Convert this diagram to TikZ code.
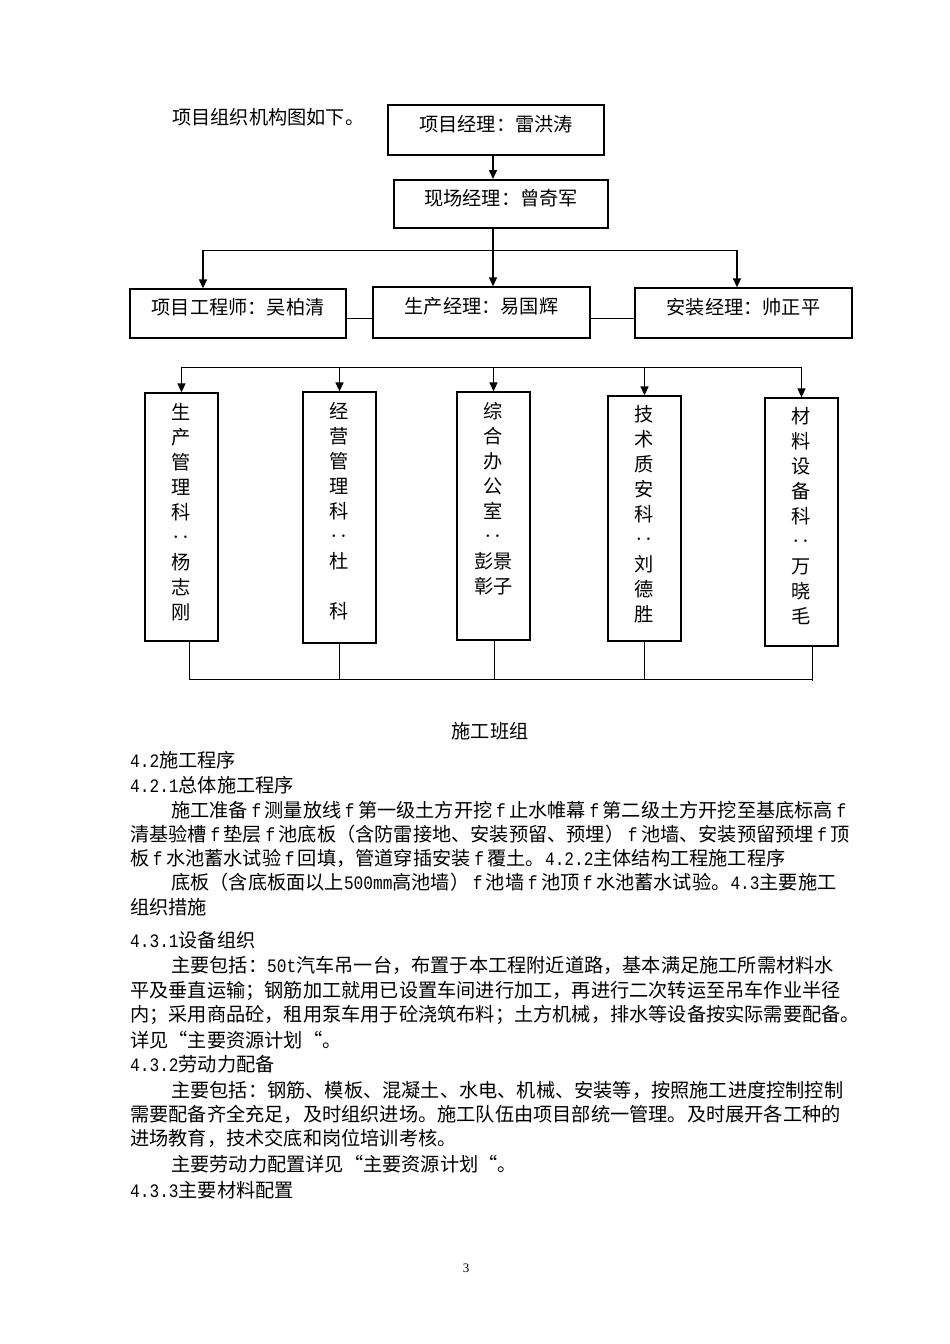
\documentclass[tikz,border=0pt]{standalone}
\usepackage{fontspec}
\setmainfont{Noto Sans CJK SC}
\newfontfamily\hwfont{Liberation Mono}[FakeStretch=0.85]
\newfontfamily\pgfont{Liberation Serif}
\usetikzlibrary{arrows.meta,positioning}
\newcommand\bodyfont{\fontsize{19.2pt}{25pt}\selectfont}
\newcommand\hw[1]{{\fontsize{19pt}{25pt}\hwfont #1}}
\newcommand\fto{\kern3.5pt\hw{f}\kern3.5pt}
\tikzset{
  textline/.style={anchor=base west, inner sep=0pt, font=\bodyfont},
  mgrbox/.style={draw, line width=1.3pt, inner sep=0pt, text depth=14pt, font=\bodyfont},
  topbox/.style={mgrbox, line width=2pt},
  deptbox/.style={draw, line width=1.3pt, inner sep=0pt, minimum width=73},
  depttext/.style={align=center, inner sep=0pt, font=\bodyfont},
  link/.style={line width=1pt},
  feed/.style={line width=1.5pt, -{Triangle[length=9pt,width=8pt]}}
}
\begin{document}
\begin{tikzpicture}[x=1pt, y=-1pt]
  \path[use as bounding box] (0,0) rectangle (950,1344); % page
  % org chart
  \node[textline] (intro) at (172,124) {项目组织机构图如下。};
  \node[topbox, minimum width=216, minimum height=50] (pm) at (496,130) {项目经理：雷洪涛};
  \node[topbox, minimum width=214, minimum height=48] (sm) at (501,204) {现场经理：曾奇军};
  \node[mgrbox, minimum width=216, minimum height=49] (eng) at (238,313.5) {项目工程师：吴柏清};
  \node[mgrbox, minimum width=217, minimum height=51] (prod) at (481.5,312.5) {生产经理：易国辉};
  \node[mgrbox, minimum width=217, minimum height=50] (inst) at (743.5,313) {安装经理：帅正平};

  \coordinate (spine) at (493,250);
  \coordinate (busL) at (203,250);
  \coordinate (busR) at (737,250);
  \coordinate (tie) at (0,318);
  \draw[feed] (pm.south -| spine) -- (sm.north -| spine);
  \draw[feed] (sm.south -| spine) -- (prod.north -| spine);
  \draw[link] (busL) -- (busR);
  \draw[feed] (busL) -- (eng.north -| busL);
  \draw[feed] (busR) -- (inst.north -| busR);
  \draw[link] (eng.east |- tie) -- (prod.west |- tie);
  \draw[link] (prod.east |- tie) -- (inst.west |- tie);

  % departments
  \node[deptbox, minimum height=248] (b1) at (181.5,517) {};
  \node[deptbox, minimum height=251] (b2) at (339.5,517.5) {};
  \node[deptbox, minimum height=248] (b3) at (493.5,516) {};
  \node[deptbox, minimum height=245] (b4) at (644.5,518.5) {};
  \node[deptbox, minimum height=248] (b5) at (801.5,522) {};
  \node[depttext, below=11pt of b1.north] (t1) {生\\产\\管\\理\\科\\‥\\杨\\志\\刚};
  \node[depttext, below=11pt of b2.north] (t2) {经\\营\\管\\理\\科\\‥\\杜\\\mbox{}\\科};
  \node[depttext, below=11pt of b3.north] (t3) {综\\合\\办\\公\\室\\‥\\彭景\\彰子};
  \node[depttext, below=10pt of b4.north] (t4) {技\\术\\质\\安\\科\\‥\\刘\\德\\胜};
  \node[depttext, below=10pt of b5.north] (t5) {材\\料\\设\\备\\科\\‥\\万\\晓\\毛};

  \coordinate (rowbus) at (0,367);
  \draw[link] (b1.north |- rowbus) -- (b5.north |- rowbus);
  \draw[feed] (b1.north |- rowbus) -- (b1.north);
  \draw[feed] (b2.north |- rowbus) -- (b2.north);
  \draw[feed] (b3.north |- rowbus) -- (b3.north);
  \draw[feed] (b4.north |- rowbus) -- (b4.north);
  \draw[feed] (b5.north |- rowbus) -- (b5.north);

  \coordinate (foot1) at (189,679);
  \coordinate (foot2) at (339,679);
  \coordinate (foot3) at (494,679);
  \coordinate (foot4) at (644,679);
  \coordinate (foot5) at (812,681);
  \draw[link] (b1.south -| foot1) -- (foot1);
  \draw[link] (b2.south -| foot2) -- (foot2);
  \draw[link] (b3.south -| foot3) -- (foot3);
  \draw[link] (b4.south -| foot4) -- (foot4);
  \draw[link] (b5.south -| foot5) -- (foot5);
  \draw[link] (foot1) -- (foot4 -| foot5);

  \node[font=\bodyfont, anchor=base, inner sep=0pt] (crew) at (490,738) {施工班组};

  % body text
  \node[textline] (l01) at (130,767) {\hw{4.2}施工程序};
  \node[textline] (l02) at (130,792) {\hw{4.2.1}总体施工程序};
  \node[textline] (l03) at (171,817) {施工准备\fto{}测量放线\fto{}第一级土方开挖\fto{}止水帷幕\fto{}第二级土方开挖至基底标高\fto{}};
  \node[textline] (l04) at (130,841) {清基验槽\fto{}垫层\fto{}池底板（含防雷接地、安装预留、预埋）\fto{}池墙、安装预留预埋\fto{}顶};
  \node[textline] (l05) at (130,865) {板\fto{}水池蓄水试验\fto{}回填，管道穿插安装\fto{}覆土。\hw{4.2.2}主体结构工程施工程序};
  \node[textline] (l06) at (171,889) {底板（含底板面以上\hw{500mm}高池墙）\fto{}池墙\fto{}池顶\fto{}水池蓄水试验。\hw{4.3}主要施工};
  \node[textline] (l07) at (130,914) {组织措施};
  \node[textline] (l08) at (130,947) {\hw{4.3.1}设备组织};
  \node[textline] (l09) at (171,972) {主要包括：\hw{50t}汽车吊一台，布置于本工程附近道路，基本满足施工所需材料水};
  \node[textline] (l10) at (130,997) {平及垂直运输；钢筋加工就用已设置车间进行加工，再进行二次转运至吊车作业半径};
  \node[textline] (l11) at (130,1021) {内；采用商品砼，租用泵车用于砼浇筑布料；土方机械，排水等设备按实际需要配备。};
  \node[textline] (l12) at (130,1047) {详见“主要资源计划“。};
  \node[textline] (l13) at (130,1071) {\hw{4.3.2}劳动力配备};
  \node[textline] (l14) at (171,1097) {主要包括：钢筋、模板、混凝土、水电、机械、安装等，按照施工进度控制控制};
  \node[textline] (l15) at (130,1121) {需要配备齐全充足，及时组织进场。施工队伍由项目部统一管理。及时展开各工种的};
  \node[textline] (l16) at (130,1145) {进场教育，技术交底和岗位培训考核。};
  \node[textline] (l17) at (171,1171) {主要劳动力配置详见“主要资源计划“。};
  \node[textline] (l18) at (130,1197) {\hw{4.3.3}主要材料配置};

  \node[font=\pgfont\fontsize{13pt}{15pt}\selectfont, inner sep=0pt] (pgno) at (466,1268) {3};
\end{tikzpicture}
\end{document}
